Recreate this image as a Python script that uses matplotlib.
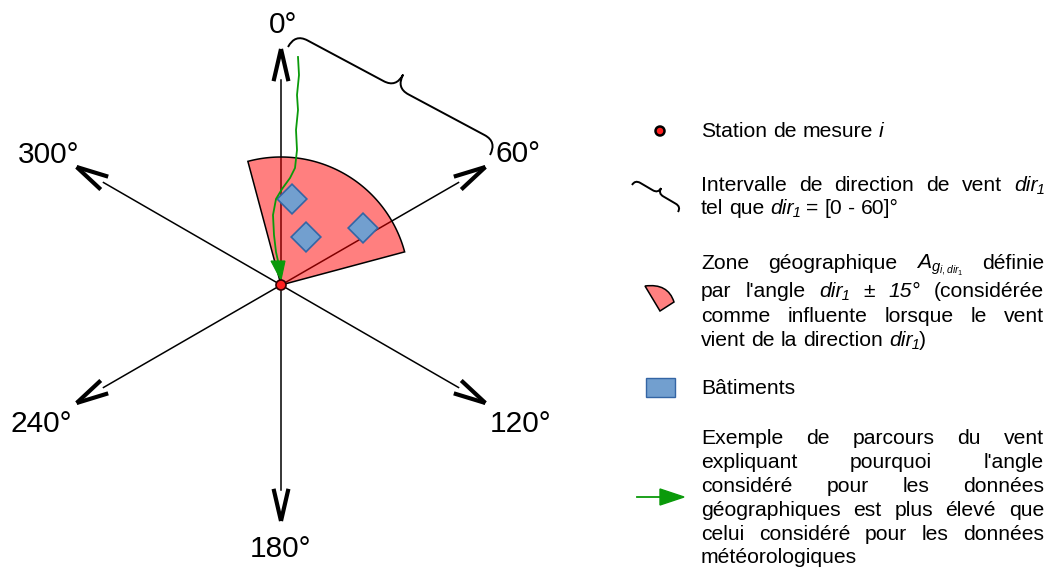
import numpy as np
import matplotlib
matplotlib.use("Agg")
import matplotlib.pyplot as plt
from matplotlib.patches import Polygon, Circle, PathPatch
from matplotlib.path import Path

plt.rcParams['font.family'] = ['Liberation Sans', 'DejaVu Sans']
plt.rcParams['mathtext.fontset'] = 'custom'
plt.rcParams['mathtext.rm'] = 'Liberation Sans'
plt.rcParams['mathtext.it'] = 'Liberation Sans:italic'

W, H = 1051, 569

# rose des directions (pixels, y vers le bas)
centre = (281, 285)
rayon_axe = 236
angles = [0, 60, 120, 180, 240, 300]
etiquettes = ['0°', '60°', '120°', '180°', '240°', '300°']
pos_etiquettes = [(283, 33), (518, 162), (521, 432), (281, 557), (41, 432), (49, 163)]

# zone geographique dir1 +/- 15
secteur = (-15, 75)
rayon_secteur = 128

# batiments
batiments = [(292, 199), (306, 237), (363, 228)]
cote_batiment = 21

# parcours du vent (vert)
parcours_x = [298, 299, 297, 298, 296, 297, 295, 290, 282, 276, 273, 274, 276, 278]
parcours_y = [57, 75, 95, 110, 130, 150, 168, 178, 189, 199, 215, 235, 252, 261]

# accolade
accolade = [(288, 47), (490, 155)]
accolade_legende = [(632, 185), (678, 212)]

# texte de la legende : *...* = italique
para_intervalle = [["Intervalle", "de", "direction", "de", "vent", "*dir₁*"],
                   ["tel", "que", "*dir₁*", "=", "[0", "-", "60]°"]]
para_zone = [["Zone", "géographique", r"$A_{g_{i,dir_1}}$", "définie"],
             ["par", "l'angle", "*dir₁*", "±", "*15°*", "(considérée"],
             ["comme", "influente", "lorsque", "le", "vent"],
             ["vient", "de", "la", "direction", "*dir₁*)"]]
para_vent = [["Exemple", "de", "parcours", "du", "vent"],
             ["expliquant", "pourquoi", "l'angle"],
             ["considéré", "pour", "les", "données"],
             ["géographiques", "est", "plus", "élevé", "que"],
             ["celui", "considéré", "pour", "les", "données"],
             ["météorologiques"]]

VERT = '#0a9a0a'
BLEU = '#729fcf'
BLEU_BORD = '#3465a4'
TAILLE = 15.2

fig = plt.figure(figsize=(W / 100, H / 100), dpi=100)
ax = fig.add_axes([0, 0, 1, 1])
ax.set_xlim(0, W)
ax.set_ylim(H, 0)
ax.axis('off')


def direction(theta):
    t = np.radians(theta)
    return np.array([np.sin(t), -np.cos(t)])


def rot(v, a):
    a = np.radians(a)
    return np.array([v[0] * np.cos(a) - v[1] * np.sin(a), v[0] * np.sin(a) + v[1] * np.cos(a)])


c = np.array(centre, dtype=float)
for th in angles:
    d = direction(th)
    pointe = c + rayon_axe * d
    base = pointe - 31 * d
    ax.plot([c[0], base[0]], [c[1], base[1]], color='black', lw=1.1, zorder=2)
    for s in (-13, 13):
        bras = pointe - 33 * rot(d, s)
        ax.plot([pointe[0], bras[0]], [pointe[1], bras[1]], color='black', lw=3,
                solid_capstyle='butt', zorder=2)

for txt, (x, y) in zip(etiquettes, pos_etiquettes):
    ax.text(x, y, txt, fontsize=21.5, ha='center', va='baseline')

# secteur
ts = np.linspace(secteur[0], secteur[1], 80)
pts = [c] + [c + rayon_secteur * direction(t) for t in ts]
ax.add_patch(Polygon(pts, closed=True, facecolor=(1, 0, 0, 0.5), edgecolor='black', lw=1.1, zorder=3))

# batiments
h = cote_batiment / np.sqrt(2)
for bx, by in batiments:
    ax.add_patch(Polygon([(bx - h, by), (bx, by - h), (bx + h, by), (bx, by + h)], closed=True,
                         facecolor=BLEU, edgecolor=BLEU_BORD, lw=1.2, zorder=4))

# parcours du vent
ax.plot(parcours_x, parcours_y, color=VERT, lw=1.3, zorder=5)
ax.add_patch(Polygon([(parcours_x[-1] - 7, parcours_y[-1]), (parcours_x[-1] + 7, parcours_y[-1]),
                      (centre[0], centre[1] - 5)], closed=True, facecolor=VERT, edgecolor=VERT,
                     lw=0.8, zorder=5))

ax.add_patch(Circle(centre, 5, facecolor='#ff2020', edgecolor='#300000', lw=1.2, zorder=6))


def dessine_accolade(p0, p1, hauteur, r):
    p0 = np.array(p0, float)
    p1 = np.array(p1, float)
    L = np.linalg.norm(p1 - p0)
    u = (p1 - p0) / L
    n = np.array([u[1], -u[0]])
    loc = [(0, 0), (0, hauteur), (r, hauteur),
           (L / 2 - r, hauteur), (L / 2, hauteur), (L / 2, 2 * hauteur),
           (L / 2, hauteur), (L / 2 + r, hauteur),
           (L - r, hauteur), (L, hauteur), (L, 0)]
    codes = [Path.MOVETO, Path.CURVE3, Path.CURVE3,
             Path.LINETO, Path.CURVE3, Path.CURVE3,
             Path.CURVE3, Path.CURVE3,
             Path.LINETO, Path.CURVE3, Path.CURVE3]
    verts = [p0 + a * u + b * n for a, b in loc]
    ax.add_patch(PathPatch(Path(verts, codes), facecolor='none', edgecolor='black', lw=1.4, zorder=3))


dessine_accolade(accolade[0], accolade[1], 15, 14)
dessine_accolade(accolade_legende[0], accolade_legende[1], 6, 6)

# legende : symboles
ax.add_patch(Circle((660, 131), 4.5, facecolor='#ff2020', edgecolor='black', lw=1.8, zorder=6))
leg_sect = Path([(660, 311), (645, 286), (668, 283), (674, 302), (660, 311)],
                [Path.MOVETO, Path.LINETO, Path.CURVE3, Path.CURVE3, Path.CLOSEPOLY])
ax.add_patch(PathPatch(leg_sect, facecolor='#ff8080', edgecolor='black', lw=1.1))
ax.add_patch(Polygon([(646, 378), (675, 378), (675, 397), (646, 397)], closed=True,
                     facecolor=BLEU, edgecolor=BLEU_BORD, lw=1))
ax.plot([637, 661], [497, 497], color=VERT, lw=1.3)
ax.add_patch(Polygon([(660, 489), (684, 497), (660, 505)], closed=True, facecolor=VERT, edgecolor=VERT))

# legende : textes justifies
renderer = fig.canvas.get_renderer()
X0, X1 = 701, 1044
ESPACE = 0.278 * TAILLE * 100 / 72


def mot(m, y):
    # un mot = morceaux alternes droit / italique
    morceaux = [t for t in enumerate(m.split('*')) if t[1]]
    textes = [ax.text(0, y, s, fontsize=TAILLE, ha='left', va='baseline',
                      style='italic' if i % 2 else 'normal') for i, s in morceaux]
    larg = [t.get_window_extent(renderer).width for t in textes]
    return textes, larg


def ligne(mots, y, justifier=True):
    groupes = [mot(m, y) for m in mots]
    larg = [sum(g[1]) for g in groupes]
    if justifier and len(mots) > 1:
        ecart = (X1 - X0 - sum(larg)) / (len(mots) - 1)
    else:
        ecart = ESPACE
    x = X0
    for textes, lg in groupes:
        for t, l in zip(textes, lg):
            t.set_x(x)
            x += l
        x += ecart


def paragraphe(lignes, ys):
    for i, (mots, y) in enumerate(zip(lignes, ys)):
        ligne(mots, y, justifier=(i < len(lignes) - 1))


ligne(["Station", "de", "mesure", "*i*"], 137, justifier=False)
paragraphe(para_intervalle, [191, 214])
paragraphe(para_zone, [269, 297, 322, 346])
ligne(["Bâtiments"], 394, justifier=False)
paragraphe(para_vent, [444, 468, 492, 516, 540, 563])

fig.savefig("out.png", dpi=100)
